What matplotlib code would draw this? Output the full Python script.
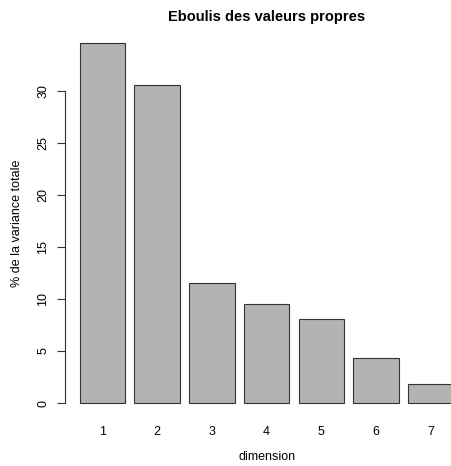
import numpy as np
import matplotlib.pyplot as plt

plt.rcParams['font.family'] = ['Liberation Sans', 'DejaVu Sans']

dimensions = ["1", "2", "3", "4", "5", "6", "7"]
variance = [34.6, 30.6, 11.5, 9.5, 8.1, 4.3, 1.8]

fig = plt.figure(figsize=(4.52, 4.66), dpi=100)
ax = fig.add_axes([0.1431, 0.1043, 0.8936, 0.834])

# positions facon barplot R : largeur 1, espace 0.2
pos = 0.7 + 1.2 * np.arange(len(variance))
ax.bar(pos, variance, width=1.0, color="#b3b3b3", edgecolor="#333333", linewidth=0.8)

ax.set_xlim(-0.128, 8.728)
ax.set_ylim(-1.384, 35.98)

for s in ["top", "right", "bottom"]:
    ax.spines[s].set_visible(False)
ax.spines["left"].set_bounds(0, 30)
ax.spines["left"].set_color("#333333")
ax.spines["left"].set_linewidth(0.8)

ax.set_yticks([0, 5, 10, 15, 20, 25, 30])
ax.set_yticklabels(["0", "5", "10", "15", "20", "25", "30"], rotation=90, va="center")
ax.tick_params(axis="y", length=6, width=0.8, color="#333333", labelsize=9, pad=5)

ax.set_xticks(pos)
ax.set_xticklabels(dimensions)
ax.tick_params(axis="x", length=0, labelsize=9, pad=6)

fig.text(0.037, 0.52, "% de la variance totale", ha="center", va="center",
         rotation=90, fontsize=9)
fig.text(0.59, 0.0193, "dimension", ha="center", va="center", fontsize=9)
fig.text(0.59, 0.963, "Eboulis des valeurs propres", ha="center", va="center",
         fontsize=10.5, fontweight="bold")

fig.savefig("out.png", dpi=100)
